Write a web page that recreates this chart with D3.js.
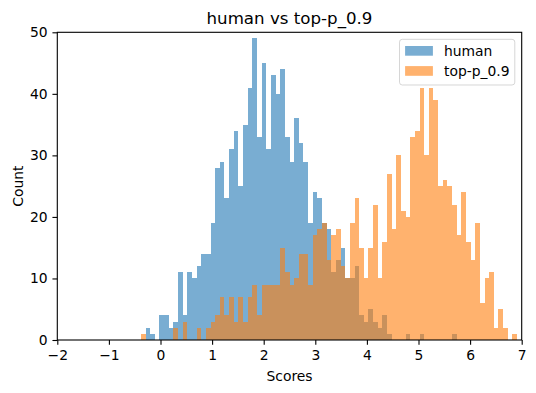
<!DOCTYPE html>
<html>
<head>
<meta charset="utf-8">
<script src="https://cdn.jsdelivr.net/npm/d3@7"></script>
<style>
  body { margin: 0; background: white; }
  text { font-family: "DejaVu Sans", sans-serif; fill: black; }
</style>
</head>
<body>
<div id="chart"></div>
<script>
// histogram bins, shared by both series
const binStart = -0.38
const binWidth = 0.09

// counts per bin
const humanCounts = [
  0, 2, 1, 0, 4, 4, 2, 3, 11, 4,
  11, 10, 12, 14, 14, 19, 28, 29, 23, 31,
  34, 25, 35, 41, 49, 33, 45, 31, 43, 40,
  44, 33, 29, 36, 32, 29, 19, 24, 23, 19,
  18, 11, 13, 15, 10, 10, 12, 4, 3, 5,
  3, 2, 4, 1, 0, 0, 0, 1, 0, 0,
  1, 0, 0, 0, 0, 0, 0, 1, 0, 0,
  0, 0, 0, 0, 0, 0, 0, 0, 0, 0, 0
]
const topPCounts = [
  1, 0, 0, 0, 0, 0, 0, 2, 0, 3,
  0, 0, 2, 0, 2, 3, 4, 7, 4, 7,
  3, 7, 3, 7, 9, 4, 9, 9, 9, 9,
  15, 11, 9, 10, 14, 14, 9, 17, 18, 19,
  13, 17, 18, 12, 10, 19, 23, 15, 10, 15,
  22, 10, 16, 27, 18, 30, 21, 20, 33, 34,
  41, 30, 41, 39, 25, 26, 25, 22, 17, 24,
  16, 13, 19, 6, 10, 11, 2, 5, 2, 0, 1
]

const seriesNames = ["human", "top-p_0.9"]
const seriesColours = ["#1f77b4", "#ff7f0e"]
const xTicks = [-2, -1, 0, 1, 2, 3, 4, 5, 6, 7]
const yTicks = [0, 10, 20, 30, 40, 50]

const width = 536
const height = 393
// plot box (window.top is taken, hence the prefix)
const plotLeft = 57.3, plotRight = 521.7, plotTop = 32.3, plotBottom = 340
const fontSize = 13.89  // 10pt at 100dpi

const svg = d3.select("#chart")
    .append("svg")
    .attr("width", width)
    .attr("height", height)

const x = d3.scaleLinear().domain([-2, 7]).range([plotLeft, plotRight])
const y = d3.scaleLinear().domain([0, 50]).range([plotBottom, plotTop])

// one group of bars per series, human first so top-p sits on top
const allSeries = [humanCounts, topPCounts]
allSeries.forEach((counts, s) => {
    svg.append("g")
        .selectAll("rect")
        .data(counts.map((c, i) => ({ x0: binStart + i * binWidth, x1: binStart + (i + 1) * binWidth, c })))
        .join("rect")
        .filter(d => d.c > 0)
        .attr("x", d => x(d.x0))
        .attr("width", d => x(d.x1) - x(d.x0))
        .attr("y", d => y(d.c))
        .attr("height", d => y(0) - y(d.c))
        .attr("fill", seriesColours[s])
        .attr("fill-opacity", 0.6)
        .attr("shape-rendering", "crispEdges")
})

// axes
const xAxis = svg.append("g")
    .attr("transform", `translate(0,${plotBottom})`)
    .call(d3.axisBottom(x).tickValues(xTicks).tickSize(4.86).tickPadding(4.86).tickSizeOuter(0))
const yAxis = svg.append("g")
    .attr("transform", `translate(${plotLeft},0)`)
    .call(d3.axisLeft(y).tickValues(yTicks).tickSize(4.86).tickPadding(4.86).tickSizeOuter(0))

;[xAxis, yAxis].forEach(a => {
    a.select(".domain").remove()
    a.selectAll(".tick line").attr("stroke", "black").attr("stroke-width", 1.1)
    a.selectAll(".tick text")
        .style("font-size", fontSize + "px")
        .style("font-family", "DejaVu Sans")
        .attr("fill", "black")
})

// frame (spines)
svg.append("rect")
    .attr("x", plotLeft)
    .attr("y", plotTop)
    .attr("width", plotRight - plotLeft)
    .attr("height", plotBottom - plotTop)
    .attr("fill", "none")
    .attr("stroke", "black")
    .attr("stroke-width", 1.1)

// title + labels
svg.append("text")
    .attr("x", (plotLeft + plotRight) / 2).attr("y", 24)
    .attr("text-anchor", "middle")
    .style("font-size", "16.67px")
    .text("human vs top-p_0.9")
svg.append("text")
    .attr("x", (plotLeft + plotRight) / 2).attr("y", 381)
    .attr("text-anchor", "middle")
    .style("font-size", fontSize + "px")
    .text("Scores")
svg.append("text")
    .attr("transform", `translate(22.5,${(plotTop + plotBottom) / 2}) rotate(-90)`)
    .attr("text-anchor", "middle")
    .style("font-size", fontSize + "px")
    .text("Count")

// Handmade legend, upper right
const legend = svg.append("g")
legend.append("rect")
    .attr("x", 399.5).attr("y", 39.3)
    .attr("width", 115.3).attr("height", 45.7)
    .attr("rx", 2.8)
    .attr("fill", "white").attr("fill-opacity", 0.8)
    .attr("stroke", "#cccccc").attr("stroke-opacity", 0.8)
    .attr("stroke-width", 1)
seriesNames.forEach((name, i) => {
    legend.append("rect")
        .attr("x", 405.1).attr("y", 46 + i * 20.1)
        .attr("width", 27.8).attr("height", 9.7)
        .attr("fill", seriesColours[i]).attr("fill-opacity", 0.6)
    legend.append("text")
        .attr("x", 444).attr("y", 55.8 + i * 20.1)
        .style("font-size", fontSize + "px")
        .text(name)
})
</script>
</body>
</html>
